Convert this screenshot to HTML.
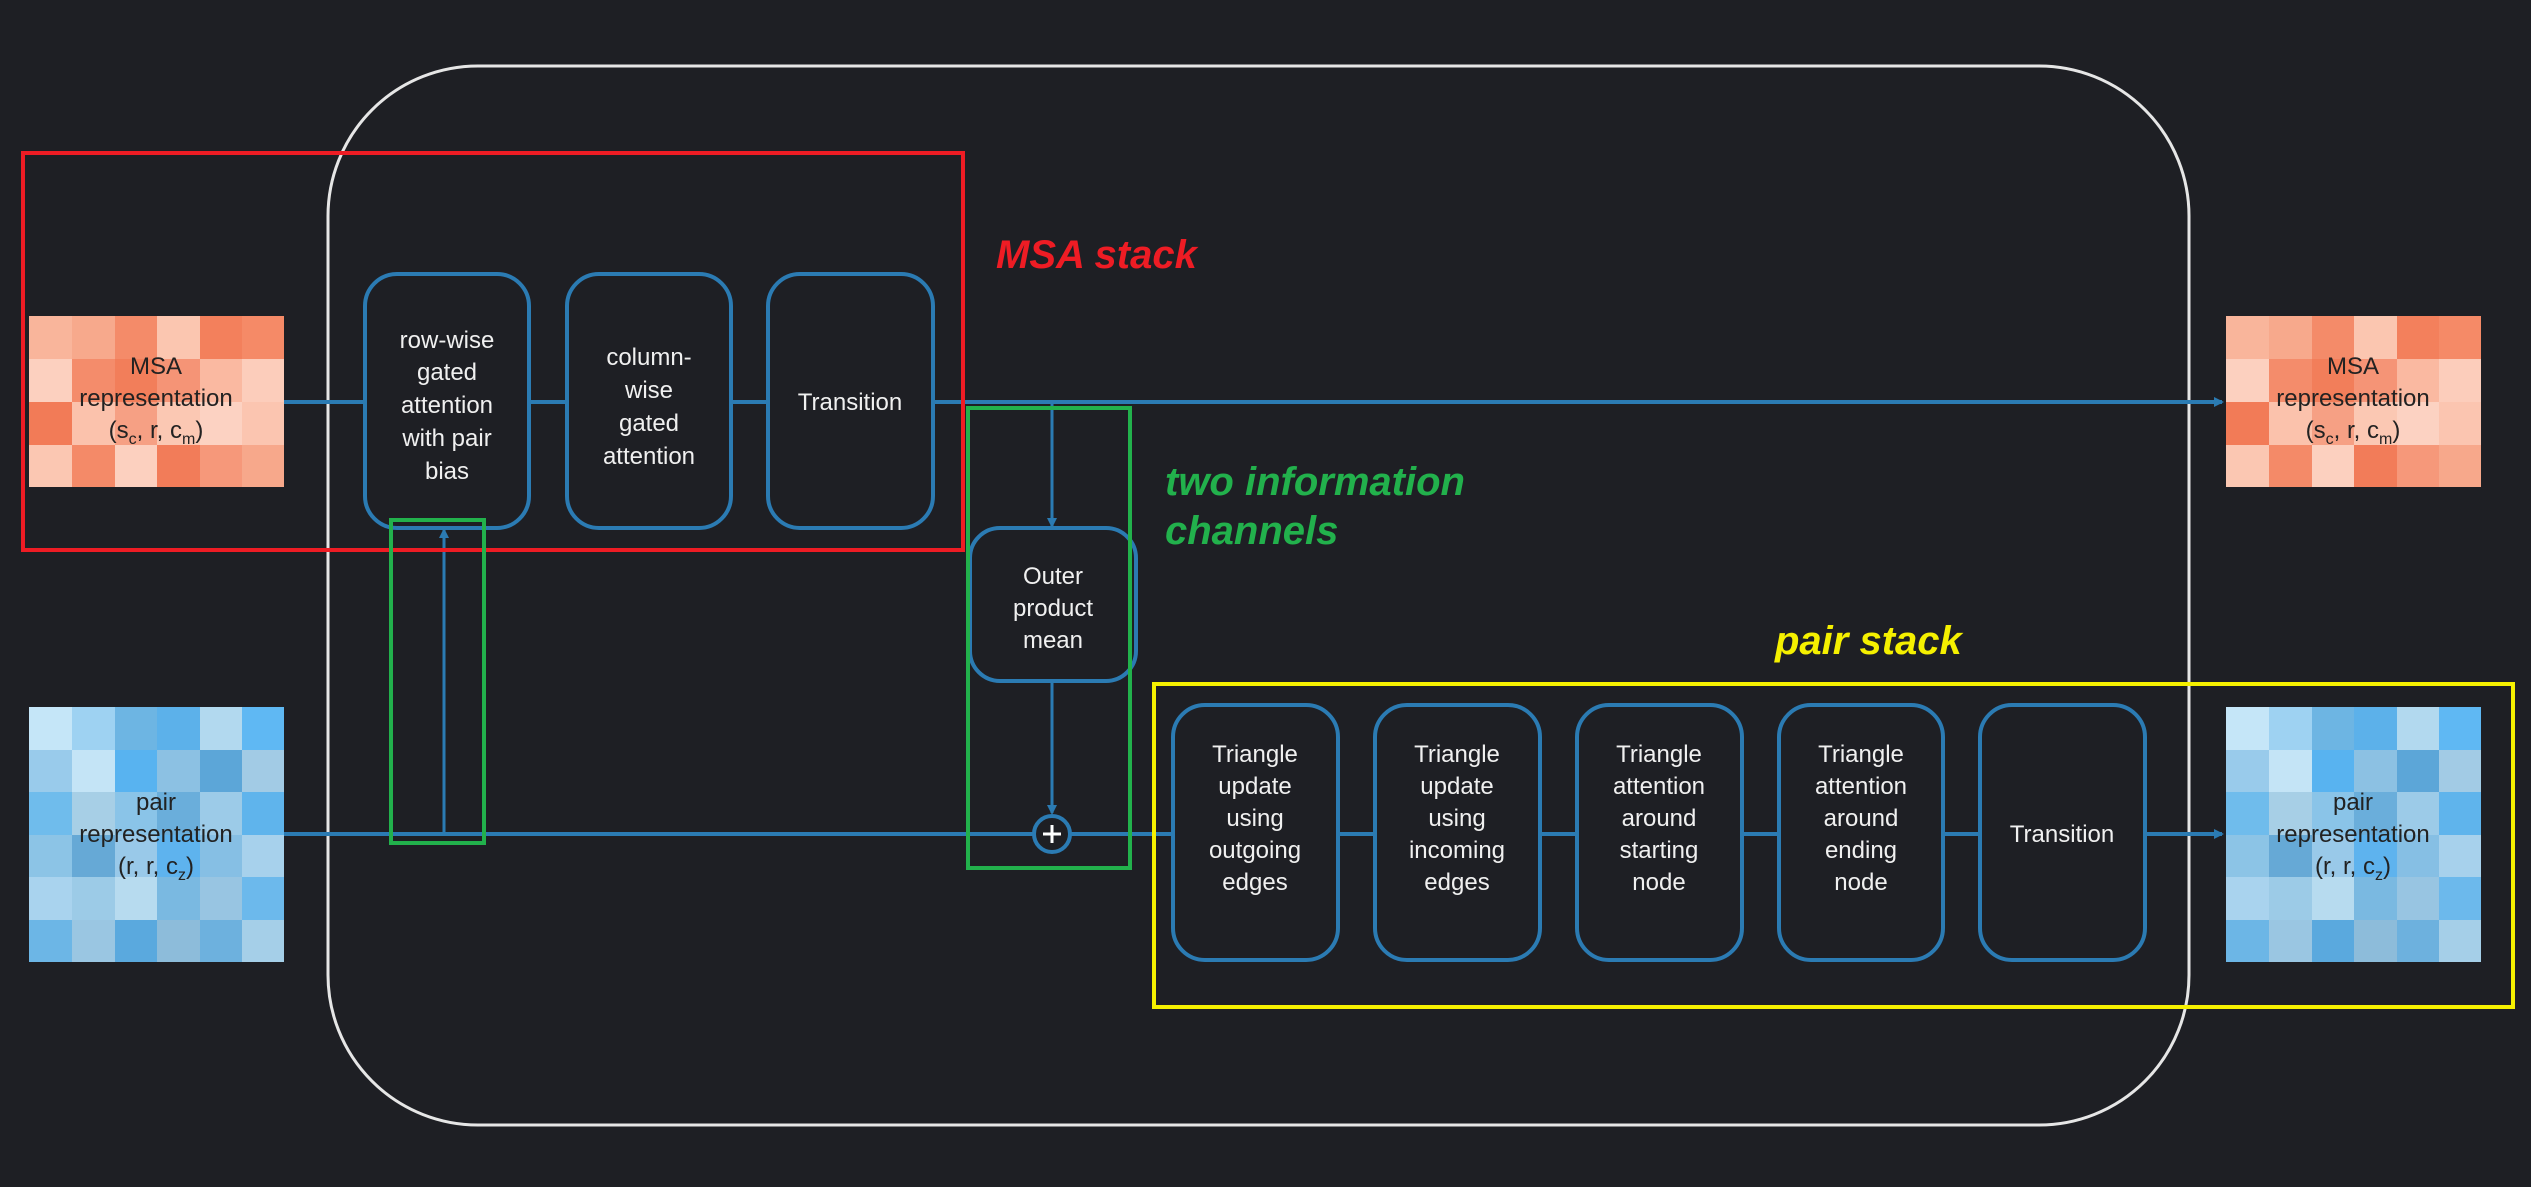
<!DOCTYPE html>
<html><head><meta charset="utf-8"><style>
html,body{margin:0;padding:0;background:#1e1f24;}
svg{display:block}
text{font-family:"Liberation Sans",Arial,sans-serif;}
</style></head><body>
<svg width="2531" height="1187" viewBox="0 0 2531 1187" xmlns="http://www.w3.org/2000/svg">
<defs>
<marker id="ar" markerWidth="10" markerHeight="10" refX="8" refY="5" orient="auto" markerUnits="userSpaceOnUse">
<path d="M0,0 L10,5 L0,10 z" fill="#2b7bb3"/></marker>
</defs>
<rect width="2531" height="1187" fill="#1e1f24"/>
<!-- big container -->
<rect x="328" y="66" width="1861" height="1059" rx="150" fill="none" stroke="#e6e6e6" stroke-width="3"/>

<!-- heatmaps -->
<g id="msaL">
<rect x="29" y="316" width="43" height="43" fill="#f9b59b"/><rect x="72" y="316" width="43" height="43" fill="#f7a98c"/><rect x="115" y="316" width="42" height="43" fill="#f48b69"/><rect x="157" y="316" width="43" height="43" fill="#fbc6b0"/><rect x="200" y="316" width="42" height="43" fill="#f3805c"/><rect x="242" y="316" width="42" height="43" fill="#f58a67"/>
<rect x="29" y="359" width="43" height="43" fill="#fcd0bf"/><rect x="72" y="359" width="43" height="43" fill="#f48c6b"/><rect x="115" y="359" width="42" height="43" fill="#f27e5a"/><rect x="157" y="359" width="43" height="43" fill="#f59476"/><rect x="200" y="359" width="42" height="43" fill="#fab9a1"/><rect x="242" y="359" width="42" height="43" fill="#fccdbb"/>
<rect x="29" y="402" width="43" height="43" fill="#f27b57"/><rect x="72" y="402" width="43" height="43" fill="#fbc2ac"/><rect x="115" y="402" width="42" height="43" fill="#f6a084"/><rect x="157" y="402" width="43" height="43" fill="#fbc8b3"/><rect x="200" y="402" width="42" height="43" fill="#fcd2c2"/><rect x="242" y="402" width="42" height="43" fill="#fbc5b0"/>
<rect x="29" y="445" width="43" height="42" fill="#fbc7b2"/><rect x="72" y="445" width="43" height="42" fill="#f48a68"/><rect x="115" y="445" width="42" height="42" fill="#fcd0bf"/><rect x="157" y="445" width="43" height="42" fill="#f27c59"/><rect x="200" y="445" width="42" height="42" fill="#f6987a"/><rect x="242" y="445" width="42" height="42" fill="#f7a88b"/>
</g>
<use href="#msaL" transform="translate(2197,0)"/>
<g id="pairL">
<rect x="29" y="707" width="43" height="43" fill="#c5e6f8"/><rect x="72" y="707" width="43" height="43" fill="#9ed2f2"/><rect x="115" y="707" width="42" height="43" fill="#6db5e3"/><rect x="157" y="707" width="43" height="43" fill="#5cb1ea"/><rect x="200" y="707" width="42" height="43" fill="#b2d9ef"/><rect x="242" y="707" width="42" height="43" fill="#5fb8f3"/>
<rect x="29" y="750" width="43" height="42" fill="#99cbeb"/><rect x="72" y="750" width="43" height="42" fill="#c4e4f6"/><rect x="115" y="750" width="42" height="42" fill="#58b3f0"/><rect x="157" y="750" width="43" height="42" fill="#8cc1e3"/><rect x="200" y="750" width="42" height="42" fill="#5ca6d8"/><rect x="242" y="750" width="42" height="42" fill="#a2cbe5"/>
<rect x="29" y="792" width="43" height="43" fill="#6fbcec"/><rect x="72" y="792" width="43" height="43" fill="#a7cfe6"/><rect x="115" y="792" width="42" height="43" fill="#8ac4e8"/><rect x="157" y="792" width="43" height="43" fill="#6aaedb"/><rect x="200" y="792" width="42" height="43" fill="#9ccbe8"/><rect x="242" y="792" width="42" height="43" fill="#5fb4ec"/>
<rect x="29" y="835" width="43" height="42" fill="#8cc4e6"/><rect x="72" y="835" width="43" height="42" fill="#66a9d6"/><rect x="115" y="835" width="42" height="42" fill="#99c9e9"/><rect x="157" y="835" width="43" height="42" fill="#5eb3ee"/><rect x="200" y="835" width="42" height="42" fill="#86bfe4"/><rect x="242" y="835" width="42" height="42" fill="#a7d1ec"/>
<rect x="29" y="877" width="43" height="43" fill="#a9d3ee"/><rect x="72" y="877" width="43" height="43" fill="#9ccbe7"/><rect x="115" y="877" width="42" height="43" fill="#b7dbef"/><rect x="157" y="877" width="43" height="43" fill="#7ab9e1"/><rect x="200" y="877" width="42" height="43" fill="#98c5e2"/><rect x="242" y="877" width="42" height="43" fill="#6cb9ec"/>
<rect x="29" y="920" width="43" height="42" fill="#6cb6e6"/><rect x="72" y="920" width="43" height="42" fill="#9ac6e2"/><rect x="115" y="920" width="42" height="42" fill="#5aa9de"/><rect x="157" y="920" width="43" height="42" fill="#8dbcda"/><rect x="200" y="920" width="42" height="42" fill="#6db1de"/><rect x="242" y="920" width="42" height="42" fill="#a5cfe8"/>
</g>
<use href="#pairL" transform="translate(2197,0)"/>

<g font-size="24" fill="#222" text-anchor="middle">
<text x="156" y="374">MSA</text><text x="156" y="406">representation</text><text x="156" y="438">(s<tspan font-size="16" dy="6">c</tspan><tspan dy="-6">, r, c</tspan><tspan font-size="16" dy="6">m</tspan><tspan dy="-6">)</tspan></text>
<text x="2353" y="374">MSA</text><text x="2353" y="406">representation</text><text x="2353" y="438">(s<tspan font-size="16" dy="6">c</tspan><tspan dy="-6">, r, c</tspan><tspan font-size="16" dy="6">m</tspan><tspan dy="-6">)</tspan></text>
<text x="156" y="810">pair</text><text x="156" y="842">representation</text><text x="156" y="874">(r, r, c<tspan font-size="16" dy="6">z</tspan><tspan dy="-6">)</tspan></text>
<text x="2353" y="810">pair</text><text x="2353" y="842">representation</text><text x="2353" y="874">(r, r, c<tspan font-size="16" dy="6">z</tspan><tspan dy="-6">)</tspan></text>
</g>

<!-- lines -->
<g stroke="#2b7bb3" stroke-width="4" fill="none">
<line x1="284" y1="402" x2="2222" y2="402" marker-end="url(#ar)"/>
<line x1="284" y1="834" x2="2222" y2="834" marker-end="url(#ar)"/>
<line x1="1052" y1="402" x2="1052" y2="526" stroke-width="3" marker-end="url(#ar)"/>
<line x1="1052" y1="681" x2="1052" y2="813" stroke-width="3" marker-end="url(#ar)"/>
<line x1="444" y1="834" x2="444" y2="530" stroke-width="3" marker-end="url(#ar)"/>
</g>

<!-- boxes -->
<g fill="#1e1f24" stroke="#2b7bb3" stroke-width="4">
<rect x="365" y="274" width="164" height="254" rx="32"/>
<rect x="567" y="274" width="164" height="254" rx="32"/>
<rect x="768" y="274" width="165" height="254" rx="32"/>
<rect x="970" y="528" width="166" height="153" rx="30"/>
<rect x="1173" y="705" width="165" height="255" rx="32"/>
<rect x="1375" y="705" width="165" height="255" rx="32"/>
<rect x="1577" y="705" width="165" height="255" rx="32"/>
<rect x="1779" y="705" width="164" height="255" rx="32"/>
<rect x="1980" y="705" width="165" height="255" rx="32"/>
<circle cx="1052" cy="834" r="18"/>
</g>
<line x1="1052" y1="825" x2="1052" y2="843" stroke="#fff" stroke-width="3"/>
<line x1="1043" y1="834" x2="1061" y2="834" stroke="#fff" stroke-width="3"/>

<g font-size="24" fill="#f0f0f0" text-anchor="middle">
<text x="447" y="348">row-wise</text><text x="447" y="380">gated</text><text x="447" y="413">attention</text><text x="447" y="446">with pair</text><text x="447" y="479">bias</text>
<text x="649" y="365">column-</text><text x="649" y="398">wise</text><text x="649" y="431">gated</text><text x="649" y="464">attention</text>
<text x="850" y="410">Transition</text>
<text x="1053" y="584">Outer</text><text x="1053" y="616">product</text><text x="1053" y="648">mean</text>
<text x="1255" y="762">Triangle</text><text x="1255" y="794">update</text><text x="1255" y="826">using</text><text x="1255" y="858">outgoing</text><text x="1255" y="890">edges</text>
<text x="1457" y="762">Triangle</text><text x="1457" y="794">update</text><text x="1457" y="826">using</text><text x="1457" y="858">incoming</text><text x="1457" y="890">edges</text>
<text x="1659" y="762">Triangle</text><text x="1659" y="794">attention</text><text x="1659" y="826">around</text><text x="1659" y="858">starting</text><text x="1659" y="890">node</text>
<text x="1861" y="762">Triangle</text><text x="1861" y="794">attention</text><text x="1861" y="826">around</text><text x="1861" y="858">ending</text><text x="1861" y="890">node</text>
<text x="2062" y="842">Transition</text>
</g>

<!-- highlight boxes -->
<g fill="none" stroke-width="4">
<rect x="23" y="153" width="940" height="397" stroke="#ee1c24"/>
<rect x="391" y="520" width="93" height="323" stroke="#22b14c"/>
<rect x="968" y="408" width="162" height="460" stroke="#22b14c"/>
<rect x="1154" y="684" width="1359" height="323" stroke="#f5f000"/>
</g>

<g font-size="40" font-weight="bold" font-style="italic">
<text x="996" y="268" fill="#ee1c24">MSA stack</text>
<text x="1165" y="495" fill="#22b14c">two information</text>
<text x="1165" y="544" fill="#22b14c">channels</text>
<text x="1775" y="654" fill="#f5f000">pair stack</text>
</g>
</svg>
</body></html>
